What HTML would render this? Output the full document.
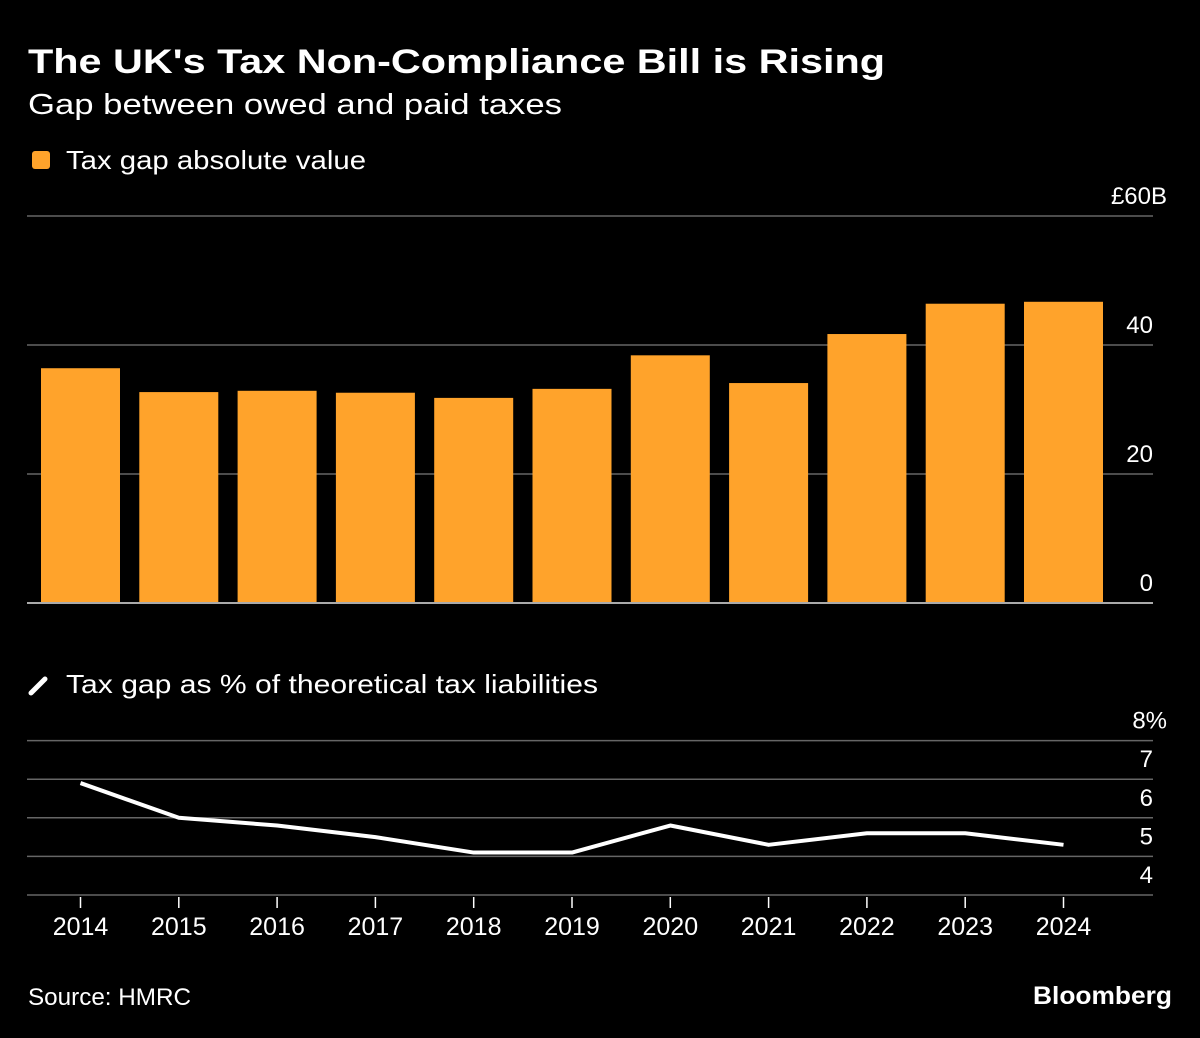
<!DOCTYPE html>
<html><head><meta charset="utf-8"><style>
body{margin:0;background:#000;width:1200px;height:1033px;overflow:hidden;font-family:"Liberation Sans","DejaVu Sans",sans-serif;}
svg text{font-family:"Liberation Sans","DejaVu Sans",sans-serif;}
</style></head><body>
<svg width="1200" height="1033" xmlns="http://www.w3.org/2000/svg">
<text x="28" y="73" fill="#fff" font-size="34" font-weight="bold" textLength="857" lengthAdjust="spacingAndGlyphs">The UK's Tax Non-Compliance Bill is Rising</text>
<text x="28" y="114" fill="#fff" font-size="29" textLength="534" lengthAdjust="spacingAndGlyphs">Gap between owed and paid taxes</text>
<rect x="32" y="151" width="18" height="18" rx="3" fill="#ffa32b"/>
<text x="66" y="169" fill="#fff" font-size="26" textLength="300" lengthAdjust="spacingAndGlyphs">Tax gap absolute value</text>
<line x1="31" y1="693" x2="45" y2="679" stroke="#fff" stroke-width="5" stroke-linecap="round"/>
<text x="66" y="693" fill="#fff" font-size="26" textLength="532" lengthAdjust="spacingAndGlyphs">Tax gap as % of theoretical tax liabilities</text>
<g id="topg"></g><g id="botg"></g>
<text x="28" y="1005" fill="#fff" font-size="24" textLength="163" lengthAdjust="spacingAndGlyphs">Source: HMRC</text>
<text x="1033" y="1004" fill="#fff" font-size="25" font-weight="bold" textLength="139" lengthAdjust="spacingAndGlyphs">Bloomberg</text>
</svg>
<script>
const years=["2014","2015","2016","2017","2018","2019","2020","2021","2022","2023","2024"];
const gapValues=[36.4,32.7,32.9,32.6,31.8,33.2,38.4,34.1,41.7,46.4,46.7];
const pctValues=[6.9,6.0,5.8,5.5,5.1,5.1,5.8,5.3,5.6,5.6,5.3];
const topTicks=[0,20,40,60];
const topTickLabels=["0","20","40","£60B"];
const botTicks=[4,5,6,7,8];
const botTickLabels=["4","5","6","7","8%"];
const NS="http://www.w3.org/2000/svg";
function mk(p,t,a){const e=document.createElementNS(NS,t);for(const k in a)e.setAttribute(k,a[k]);p.appendChild(e);return e;}
const xc=i=>80.5+i*98.3;
const yTop=v=>603-v*(387/60);
const yBot=v=>895-(v-4)*38.6;
const topG=document.getElementById('topg'),botG=document.getElementById('botg');
topTicks.forEach((t,i)=>{
 const l=mk(topG,'line',{x1:27,x2:1153,y1:yTop(t),y2:yTop(t),stroke:t===0?'#aaa':'#666','stroke-width':t===0?2:1.5});
 
 
 const last=i===topTicks.length-1;
 const tx=mk(topG,'text',{x:last?1167:1153,y:yTop(t)-12,fill:'#fff','font-size':24,'text-anchor':'end'});tx.textContent=topTickLabels[i];
 
 
});
gapValues.forEach((v,i)=>{
 const r=mk(topG,'rect',{x:xc(i)-39.5,y:yTop(v),width:79,height:yTop(0)-yTop(v)-1,fill:'#ffa32b'});
 
 
});
botTicks.forEach((t,i)=>{
 const l=mk(botG,'line',{x1:27,x2:1153,y1:yBot(t),y2:yBot(t),stroke:'#666','stroke-width':1.5});
 
 
 const last=i===botTicks.length-1;
 const tx=mk(botG,'text',{x:last?1167:1153,y:yBot(t)-12,fill:'#fff','font-size':24,'text-anchor':'end'});tx.textContent=botTickLabels[i];
 
 
});
const pl=mk(botG,'polyline',{points:pctValues.map((v,i)=>xc(i)+','+yBot(v)).join(' '),fill:'none',stroke:'#fff','stroke-width':4,'stroke-linejoin':'round'});


years.forEach((y,i)=>{
 const t=mk(botG,'line',{x1:xc(i),x2:xc(i),y1:897,y2:908,stroke:'#fff','stroke-width':1.5});
 
 
 const tx=mk(botG,'text',{x:xc(i),y:935,fill:'#fff','font-size':25,'text-anchor':'middle'});tx.textContent=y;
 
 
});
</script>
</body></html>
